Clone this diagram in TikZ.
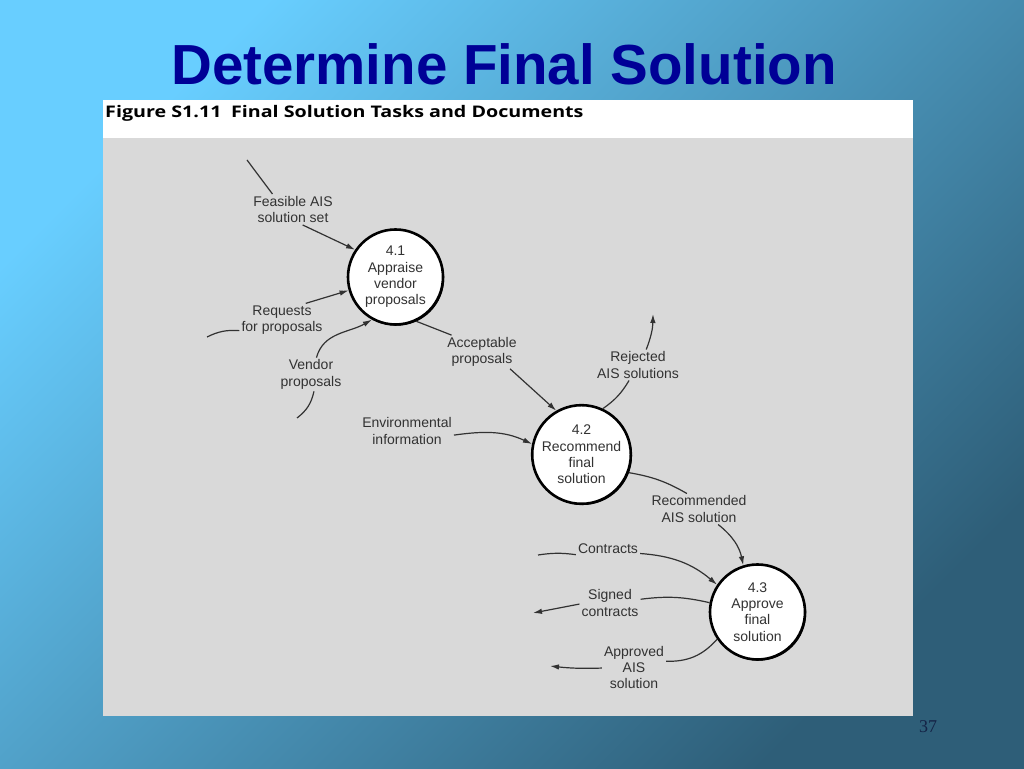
\documentclass[tikz,border=0pt]{standalone}
\usepackage{fontspec}
\setmainfont{Liberation Sans}
\newfontfamily\capfont[FakeStretch=1.23]{Open Sans}
\newfontfamily\numfont{Liberation Serif}
\usetikzlibrary{arrows.meta, shadows}
\definecolor{skytop}{RGB}{104,206,255}
\definecolor{skybot}{RGB}{46,94,120}
\definecolor{titleblue}{RGB}{0,0,150}
\definecolor{panelgrey}{RGB}{217,217,217}
\definecolor{inkgrey}{RGB}{50,50,50}
\definecolor{pagenavy}{RGB}{20,35,70}

\begin{document}
\begin{tikzpicture}[x=1pt, y=1pt,
    proc/.style={circle, draw=black, line width=2.6pt, fill=white,
        minimum size=95pt, inner sep=0pt, align=center, text=inkgrey,
        font=\fontsize{14}{16.3}\selectfont,
        drop shadow={shadow xshift=1.2pt, shadow yshift=-1.2pt, fill=black, opacity=1}},
    flowlabel/.style={align=center, inner sep=2pt, text=inkgrey,
        font=\fontsize{14}{16.3}\selectfont},
    flow/.style={draw=inkgrey, line width=1.2pt},
    flowarrow/.style={flow, -{Latex[length=9pt, width=5.5pt]}}]

    % --- Slide background and frame ---
    \shade[top color=skytop, bottom color=skybot, shading angle=45] (0,0) rectangle (1024,768);
    \useasboundingbox (0,0) rectangle (1024,768);

    % --- Slide title ---
    \node[text=titleblue, font=\bfseries\fontsize{56.5}{60}\selectfont] (title) at (504,704) {Determine Final Solution};

    % --- Figure panel: white caption strip over grey field ---
    \fill[white] (103,52) rectangle (913,668);
    \fill[panelgrey] (103,52) rectangle (913,630);
    \node[anchor=base west, inner sep=0pt, font=\capfont\bfseries\fontsize{16}{18}\selectfont] (caption)
        at (105,650.5) {Figure S1.11\hspace{0.6em}Final Solution Tasks and Documents};

    % --- Processes ---
    \node[proc] (p41) at (395.5,491) {4.1\\Appraise\\vendor\\proposals};
    \node[proc] (p42) at (581.5,313.5) {4.2\\Recommend\\final\\solution};
    \node[proc] (p43) at (757.5,156) {4.3\\Approve\\final\\solution};

    % --- Flow labels ---
    \node[flowlabel] (fea) at (293,558.5) {Feasible AIS\\solution set};
    \node[flowlabel] (req) at (282,448) {Requests\\for proposals};
    \node[flowlabel] (ven) at (311,393.5) {Vendor\\proposals};
    \node[flowlabel] (acc) at (482,416) {Acceptable\\proposals};
    \node[flowlabel] (env) at (407,337) {Environmental\\information};
    \node[flowlabel] (rej) at (638,403) {Rejected\\AIS solutions};
    \node[flowlabel] (rec) at (699,259) {Recommended\\AIS solution};
    \node[flowlabel] (con) at (608,219) {Contracts};
    \node[flowlabel] (sig) at (610,165) {Signed\\contracts};
    \node[flowlabel] (app) at (634,100.5) {Approved\\AIS\\solution};

    % --- Free ends of the flows ---
    \coordinate (feaSrc) at (247,608);
    \coordinate (reqSrc) at (207,431);
    \coordinate (venSrc) at (297,350);
    \coordinate (rejDst) at (653,454);
    \coordinate (conSrc) at (538,213);
    \coordinate (sigDst) at (533,155);
    \coordinate (appDst) at (550,102);

    % --- Flows into 4.1 ---
    \draw[flow] (feaSrc) -- (fea.143);
    \draw[flowarrow] (fea.-58) -- (p41.146);
    \draw[flow] (reqSrc) to[bend left=15] (req.194);
    \draw[flowarrow] (req.35) -- (p41.196);
    \draw[flow] (venSrc) to[bend right=20] (ven.280);
    \draw[flowarrow] (ven.72) to[out=75, in=210] (p41.241);

    % --- 4.1 to 4.2, and flows round 4.2 ---
    \draw[flow] (p41.295) -- (acc.151);
    \draw[flowarrow] (acc.-31.5) -- (p42.120);
    \draw[flowarrow] (env.-5) to[out=8, in=155] (p42.168);
    \draw[flow] (p42.65) to[bend right=12] (rej.240);
    \draw[flowarrow] (rej.62) to[bend right=10] (rejDst);

    % --- 4.2 to 4.3, and flows round 4.3 ---
    \draw[flow] (p42.-21) to[bend left=10] (rec.128);
    \draw[flowarrow] (rec.-39.5) to[bend left=20] (p43.107.5);
    \draw[flow] (conSrc) to[bend left=8] (con.190);
    \draw[flowarrow] (con.-8) to[bend left=18] (p43.146);
    \draw[flow] (p43.169) to[bend right=10] (sig.7);
    \draw[flowarrow] (sig.182) -- (sigDst);
    \draw[flow] (p43.214.7) to[bend left=25] (app.11);
    \draw[flowarrow] (app.181) to[bend left=4] (appDst);

    % --- Page number ---
    \node[text=pagenavy, font=\numfont\fontsize{18}{20}\selectfont] (pagenum) at (928,41) {37};
\end{tikzpicture}
\end{document}
